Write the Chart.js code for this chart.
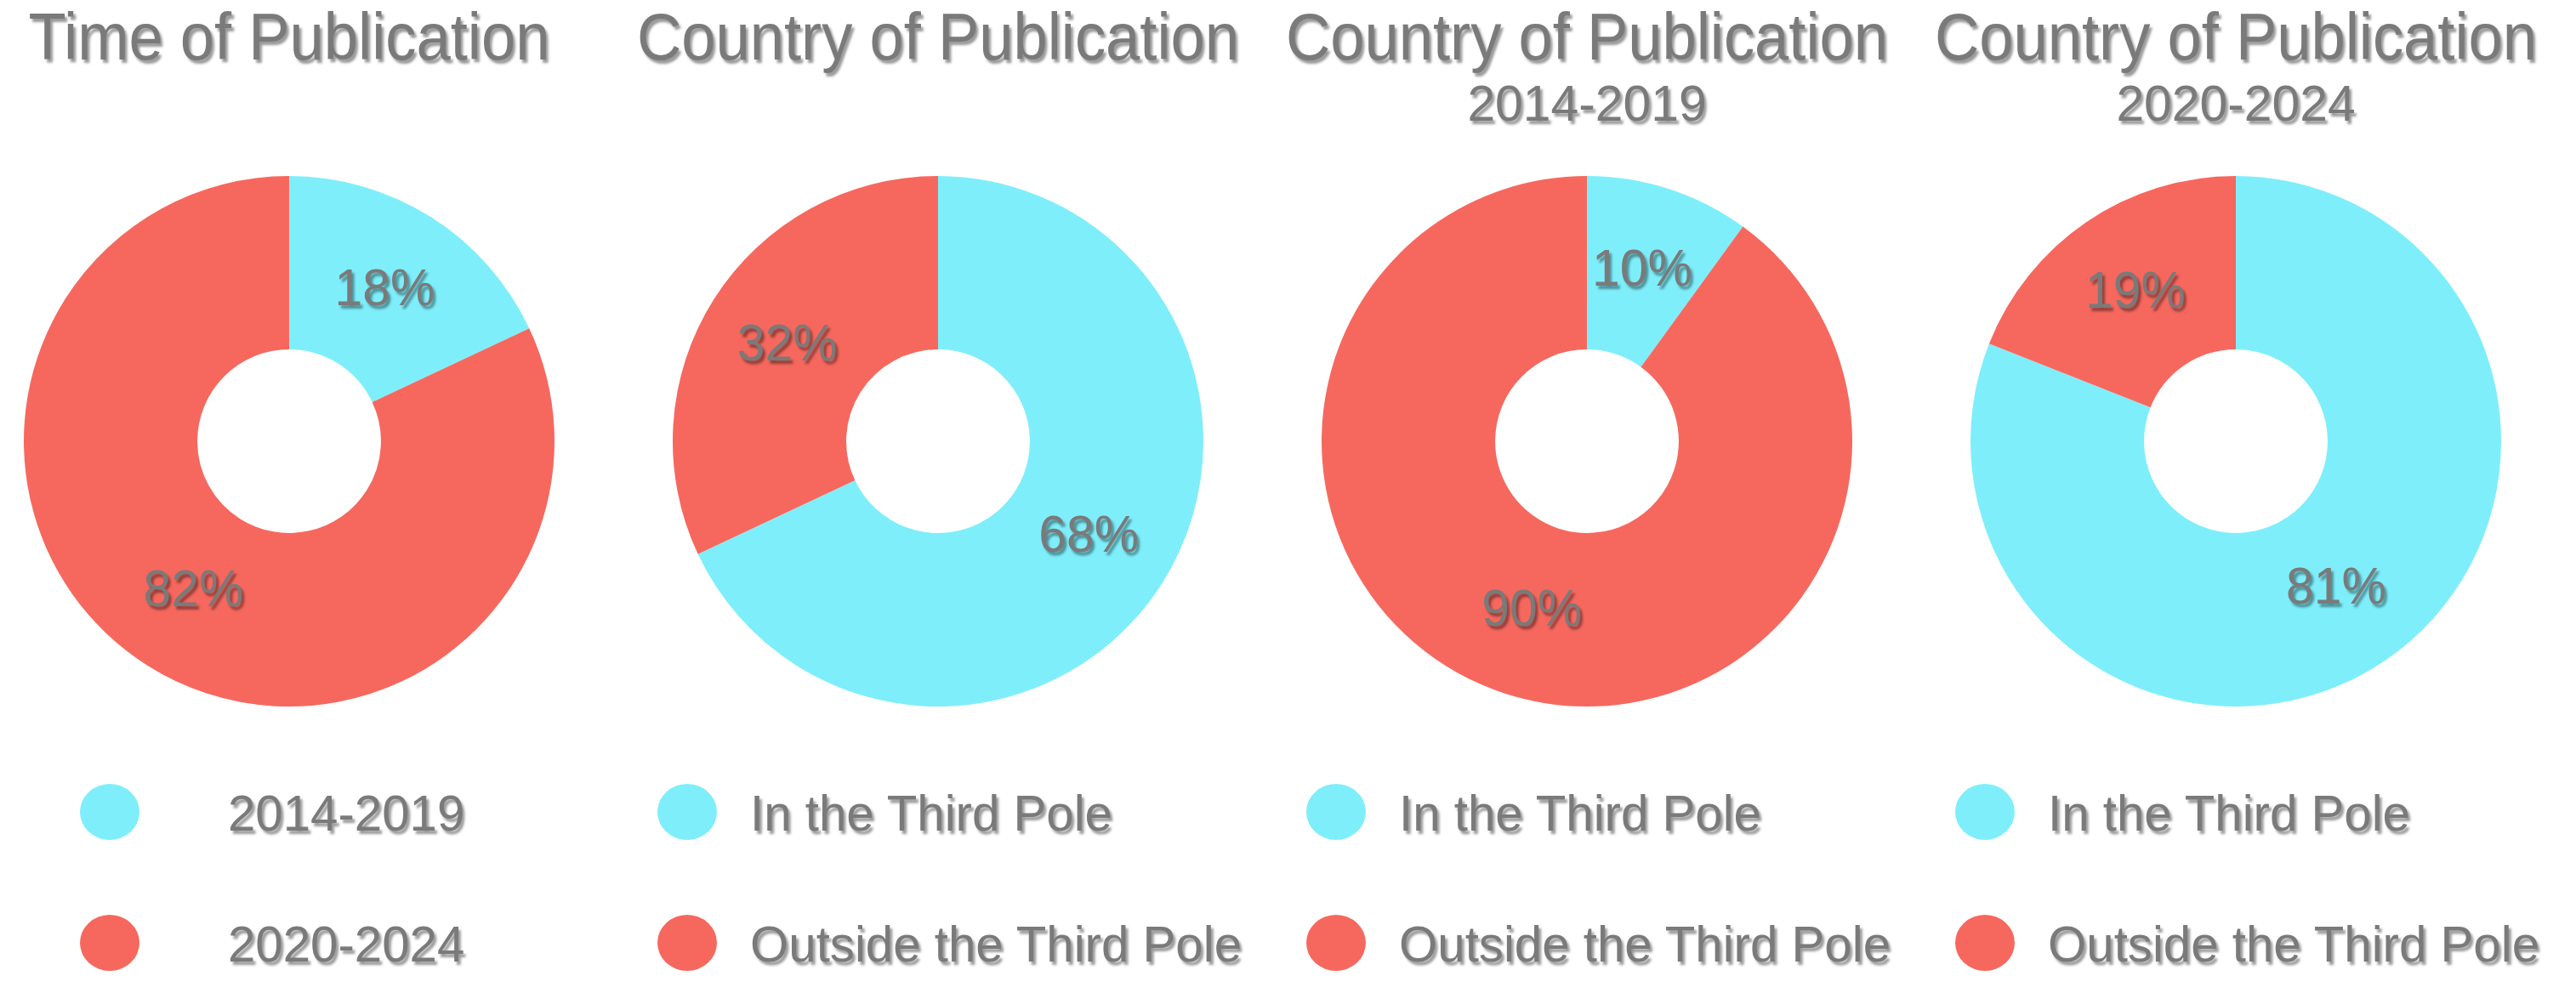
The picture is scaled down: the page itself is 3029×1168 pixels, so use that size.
<!DOCTYPE html>
<html>
<head>
<meta charset="utf-8">
<script src="https://cdn.jsdelivr.net/npm/chart.js@4.4.1/dist/chart.umd.min.js"></script>
<style>
    body { margin: 0; background: #fff; }
    #page { position: relative; width: 3029px; height: 1168px; overflow: hidden; background: #fff;
        font-family: 'Liberation Sans', Arial, sans-serif; color: #7a7a7a; }
    .txt { position: absolute; white-space: nowrap; text-shadow: 3px 4px 3px rgba(0,0,0,0.4); }
    .title { font-size: 77px; line-height: 77px; text-align: center; width: 800px; transform: scaleX(0.94); }
    .sub { font-size: 60px; line-height: 60px; text-align: center; width: 800px; transform: scaleX(0.98); }
    .legtext { font-size: 60px; line-height: 60px; transform: scaleX(0.97); transform-origin: left center; }
    .dot { position: absolute; width: 70px; height: 66px; border-radius: 50%; }
    canvas { position: absolute; }
</style>
</head>
<body>
<div id="page"></div>
<script>
// chart data
const titles = ['Time of Publication', 'Country of Publication', 'Country of Publication', 'Country of Publication'];
const subtitles = ['', '', '2014-2019', '2020-2024'];
const timeLabels = ['2014-2019', '2020-2024'];
const poleLabels = ['In the Third Pole', 'Outside the Third Pole'];
const timeShares = [18, 82];
const poleSharesAll = [68, 32];
const poleShares2014 = [10, 90];
const poleShares2020 = [81, 19];
const sliceColors = ['#7FEEFB', '#F6685E'];

const charts = [
    {labels: timeLabels, values: timeShares},
    {labels: poleLabels, values: poleSharesAll},
    {labels: poleLabels, values: poleShares2014},
    {labels: poleLabels, values: poleShares2020}
];

// layout
const centersX = [340, 1103, 1866, 2629];
const centerY = 519;
const radius = 312;
const legendDotX = [-211, -295, -295, -295];
const legendTextX = [-72, -221, -221, -221];
const legendRowY = [955, 1109];

const page = document.getElementById('page');

// percent labels drawn in the middle of each ring segment
const pctLabels = {
    id: 'pctLabels',
    afterDatasetsDraw(chart) {
        const ctx = chart.ctx;
        const meta = chart.getDatasetMeta(0);
        const values = chart.data.datasets[0].data;
        ctx.save();
        ctx.font = "62px 'Liberation Sans', Arial, sans-serif";
        ctx.fillStyle = '#7a7a7a';
        ctx.textAlign = 'center';
        ctx.textBaseline = 'middle';
        ctx.shadowColor = 'rgba(0,0,0,0.4)';
        ctx.shadowOffsetX = 3;
        ctx.shadowOffsetY = 4;
        ctx.shadowBlur = 3;
        meta.data.forEach((arc, i) => {
            const p = arc.getCenterPoint();
            ctx.save();
            ctx.translate(p.x, p.y);
            ctx.scale(0.95, 1);
            ctx.fillText(values[i] + '%', 0, 0);
            ctx.restore();
        });
        ctx.restore();
    }
};

function addText(cls, text, left, top) {
    const d = document.createElement('div');
    d.className = 'txt ' + cls;
    d.textContent = text;
    d.style.left = left + 'px';
    d.style.top = top + 'px';
    page.appendChild(d);
}

charts.forEach((c, k) => {
    const cx = centersX[k];

    // titles
    addText('title', titles[k], cx - 400, 5);
    if (subtitles[k]) addText('sub', subtitles[k], cx - 400, 92);

    // doughnut
    const size = 2 * radius + 16;
    const canvas = document.createElement('canvas');
    canvas.width = size;
    canvas.height = size;
    canvas.style.left = (cx - size / 2) + 'px';
    canvas.style.top = (centerY - size / 2) + 'px';
    page.appendChild(canvas);

    new Chart(canvas.getContext('2d'), {
        type: 'doughnut',
        data: {
            labels: c.labels,
            datasets: [{
                data: c.values,
                backgroundColor: sliceColors,
                borderWidth: 0,
                hoverBorderWidth: 0,
                hoverOffset: 0
            }]
        },
        options: {
            responsive: false,
            animation: false,
            devicePixelRatio: 1,
            cutout: '34.6%',
            layout: {padding: 8},
            plugins: {
                legend: {display: false},
                tooltip: {enabled: false}
            }
        },
        plugins: [pctLabels]
    });

    // legend
    c.labels.forEach((lab, i) => {
        const dot = document.createElement('div');
        dot.className = 'dot';
        dot.style.background = sliceColors[i];
        dot.style.left = (cx + legendDotX[k] - 35) + 'px';
        dot.style.top = (legendRowY[i] - 33) + 'px';
        page.appendChild(dot);
        addText('legtext', lab, cx + legendTextX[k], legendRowY[i] - 28);
    });
});
</script>
</body>
</html>
